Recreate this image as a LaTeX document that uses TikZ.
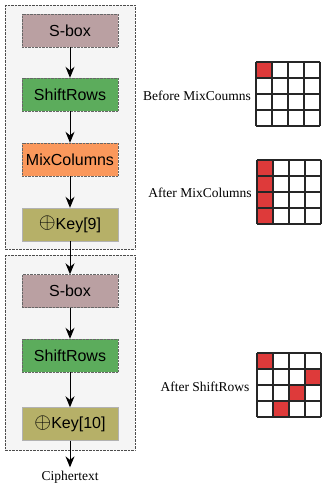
\documentclass[tikz,border=0pt]{standalone}
\usepackage{fontspec}
\setmainfont{Liberation Serif}
\setsansfont{Liberation Sans}
\usetikzlibrary{arrows.meta,positioning,calc}
\definecolor{sboxc}{RGB}{186,160,162}
\definecolor{shiftc}{RGB}{92,172,92}
\definecolor{mixc}{RGB}{250,152,92}
\definecolor{keyc}{RGB}{182,176,104}
\definecolor{cellred}{RGB}{222,58,58}
\newcommand{\xorsym}{\raisebox{0.5pt}{\scalebox{1.25}{$\oplus$}}}

\begin{document}
\begin{tikzpicture}[x=1pt,y=-1pt,
  op/.style={draw=black!60,densely dotted,minimum width=96pt,minimum height=33pt,inner sep=0pt,
    font=\sffamily\fontsize{16}{18}\selectfont},
  keybox/.style={op,solid,draw=black!30,fill=keyc},
  round/.style={draw=black!70,densely dotted,fill=black!4},
  flow/.style={-{Stealth[length=11pt,width=9pt]},line width=1pt},
  lbl/.style={font=\fontsize{13.5}{15}\selectfont},
  cell/.style={draw=black!85,line width=1.3pt}]
\useasboundingbox (0,0) rectangle (322,486);
% the two rounds
\draw[round] (5,5) rectangle (135,249);
\draw[round] (5,255) rectangle (135,450);
\node[op,fill=sboxc] (sbox1) at (70,30.5) {S-box};
\node[op,fill=shiftc] (shift1) at (70,94.5) {ShiftRows};
\node[op,fill=mixc] (mix1) at (70,159.5) {MixColumns};
\node[keybox] (key9) at (70,224.5) {\xorsym Key[9]};
\node[op,fill=sboxc] (sbox2) at (70,291) {S-box};
\node[op,fill=shiftc] (shift2) at (70,355.5) {ShiftRows};
\node[keybox] (key10) at (70,424) {\xorsym Key[10]};
\node[lbl] (cipher) at (70,477) {Ciphertext};
\foreach \a/\b in {sbox1/shift1,shift1/mix1,mix1/key9,key9/sbox2,sbox2/shift2,shift2/key10,key10/cipher}
  \draw[flow] (\a) -- (\b);
% state grids
\node[lbl] (before) at (197,96) {Before MixCoumns};
\node[lbl] (aftermix) at (200,193) {After MixColumns};
\node[lbl] (aftershift) at (205,387) {After ShiftRows};
\foreach \gx/\gy/\cells in {256/62/{0/0},257/160/{0/0,0/1,0/2,0/3},257/353/{0/0,3/1,2/2,1/3}}
{ \foreach \c/\r in \cells
    \fill[cellred] (\gx+\c*16,\gy+\r*16) rectangle ++(16,16);
  \foreach \i in {0,...,4}
  { \draw[cell] (\gx+\i*16,\gy) -- ++(0,64);
    \draw[cell] (\gx,\gy+\i*16) -- ++(64,0); } }
\end{tikzpicture}
\end{document}
